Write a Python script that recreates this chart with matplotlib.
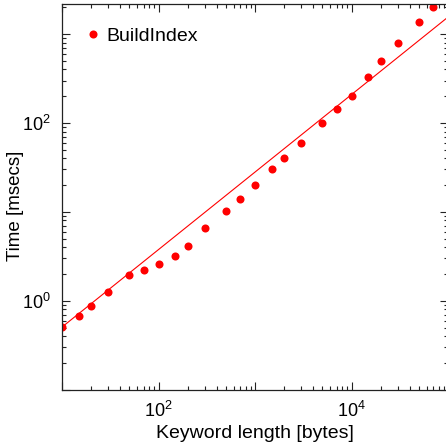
import matplotlib
matplotlib.use("Agg")
import matplotlib.pyplot as plt
from matplotlib.ticker import LogLocator, FixedLocator, FixedFormatter, NullFormatter

plt.rcParams['font.family'] = ['Liberation Sans', 'DejaVu Sans']
plt.rcParams['mathtext.fontset'] = 'custom'
plt.rcParams['mathtext.rm'] = 'Liberation Sans'

# data
keyword_length = [10, 15, 20, 30, 50, 70, 100, 150, 200, 300, 500, 700,
                  1000, 1500, 2000, 3000, 5000, 7000, 10000, 15000, 20000,
                  30000, 50000, 70000]
build_time = [0.506, 0.68, 0.87, 1.25, 1.94, 2.23, 2.56, 3.2, 4.15, 6.56,
              10.2, 14.1, 19.9, 30.2, 40.4, 60.1, 100.7, 143.7, 201, 331,
              497, 794, 1364, 1996]
fit_x = [10, 100000]
fit_y = [0.506, 1550]

xtick_major = [10, 100, 1000, 10000, 100000]
xtick_labels = ['', r'$\mathregular{10^{2}}$', '', r'$\mathregular{10^{4}}$', '']
ytick_major = [0.1, 1, 10, 100, 1000]
ytick_labels = ['', r'$\mathregular{10^{0}}$', '', r'$\mathregular{10^{2}}$', '']

fig = plt.figure(figsize=(4.46, 4.47), dpi=100)
ax = fig.add_axes([62/446, 57.3/447, 386/446, 385.7/447])

ax.plot(fit_x, fit_y, color='#ff0000', lw=0.8)
ax.plot(keyword_length, build_time, 'o', color='#ff0000', ms=5.8, mec='none',
        label='BuildIndex')

ax.set_xscale('log')
ax.set_yscale('log')
ax.set_xlim(10, 100000)
ax.set_ylim(0.1, 2175)

ax.xaxis.set_major_locator(FixedLocator(xtick_major))
ax.xaxis.set_major_formatter(FixedFormatter(xtick_labels))
ax.yaxis.set_major_locator(FixedLocator(ytick_major))
ax.yaxis.set_major_formatter(FixedFormatter(ytick_labels))
ax.xaxis.set_minor_locator(LogLocator(base=10, subs=range(2, 10), numticks=20))
ax.yaxis.set_minor_locator(LogLocator(base=10, subs=range(2, 10), numticks=20))
ax.xaxis.set_minor_formatter(NullFormatter())
ax.yaxis.set_minor_formatter(NullFormatter())

ax.tick_params(which='both', direction='in', top=True, right=True,
               color='#222222', width=0.8)
ax.tick_params(which='major', length=6, labelsize=13, pad=8)
ax.tick_params(which='minor', length=3)
for s in ax.spines.values():
    s.set_color('#222222')
    s.set_linewidth(0.9)

ax.set_xlabel('Keyword length [bytes]', fontsize=14, labelpad=3)
ax.set_ylabel('Time [msecs]', fontsize=13.5)
ax.yaxis.set_label_coords(-0.098, 0.478)

ax.legend(loc='upper left', frameon=False, fontsize=14, handletextpad=0.2,
          borderaxespad=0.3, handlelength=1.0, bbox_to_anchor=(0.02, 0.975))

fig.savefig('out.png', dpi=100)
